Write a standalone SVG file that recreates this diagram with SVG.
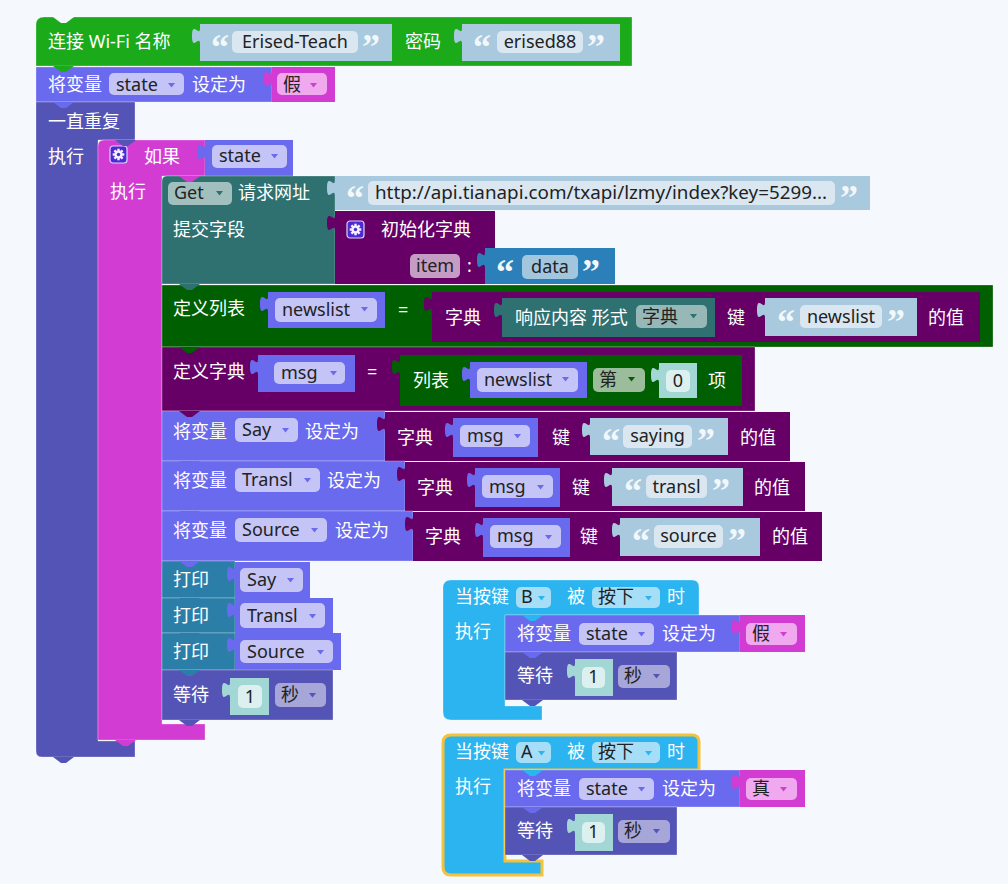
<svg xmlns="http://www.w3.org/2000/svg" width="1008" height="884" viewBox="0 0 1008 884">
<style>
.w{fill:#fff;font-family:"Noto Sans","Noto Sans CJK SC",sans-serif;font-size:18px}
.k{fill:#222;font-family:"Noto Sans","Noto Sans CJK SC",sans-serif;font-size:18px}
.m{text-anchor:middle}
.q{fill:#f2f7fa;font-family:"Liberation Serif",serif;font-size:36px;font-weight:bold}
.b{stroke:rgba(255,255,255,0.28);stroke-width:1}
.grn{fill:#1aaa1a}.vio{fill:#6a6aee}.lp{fill:#5454b6}.mag{fill:#d23cd2}.tea{fill:#2f7070}
.pur{fill:#660066}.dgr{fill:#005f00}.str{fill:#a9c9de}.sf{fill:#dae7f1}.num{fill:#a2d7d5}.nf{fill:#dcf0ef}
.prt{fill:#2b7ea7}.evt{fill:#2bb4ef}.vf{fill:#c4c4f6}.bf{fill:#f0a8ef}.ef{fill:#a6def8}.wf{fill:#a6a6d8}
</style>
<defs>
<path id="arr" d="M0,0h7l-3.5,4.5z"/>
<g id="gear">
<rect x="0" y="0" width="17" height="17" rx="3" fill="#4b2bd1" stroke="#dcd0ff" stroke-width="1.2"/>
<g fill="#f4f0ff" transform="translate(8.5,8.5)">
<circle r="4"/>
<rect x="-1.2" y="-5.8" width="2.4" height="11.6"/>
<rect x="-1.2" y="-5.8" width="2.4" height="11.6" transform="rotate(45)"/>
<rect x="-1.2" y="-5.8" width="2.4" height="11.6" transform="rotate(90)"/>
<rect x="-1.2" y="-5.8" width="2.4" height="11.6" transform="rotate(135)"/>
<circle r="1.7" fill="#4b2bd1"/>
</g>
</g>
</defs>
<rect width="1008" height="884" fill="#f5f8fd"/>

<g id="connectors"/>

<g id="wifi">
<path class="b grn" d="M36,25Q36,17 44,17H632V66H36Z"/>
<text class="w" x="48" y="48">连接 Wi-Fi 名称</text>
<path class="str" d="M200,28c0,10 -8,-8 -8,8s8,-2 8,8z"/>
<rect class="str" x="200" y="24" width="192" height="37"/>
<rect class="sf" x="232" y="31" width="126" height="22" rx="5"/>
<text class="q" x="211" y="59">“</text><text class="q" x="362" y="59">”</text>
<text class="k m" x="295" y="48">Erised-Teach</text>
<text class="w" x="405" y="48">密码</text>
<path class="str" d="M462,28c0,10 -8,-8 -8,8s8,-2 8,8z"/>
<rect class="str" x="462" y="24" width="158" height="37"/>
<rect class="sf" x="497" y="31" width="86" height="22" rx="5"/>
<text class="q" x="473" y="59">“</text><text class="q" x="587" y="59">”</text>
<text class="k m" x="540" y="48">erised88</text>
</g>

<g id="set-state-false">
<path class="b vio" d="M36,67H272V102H36Z"/>
<text class="w" x="48" y="91">将变量</text>
<rect class="vf" x="109" y="73" width="75" height="22" rx="5"/>
<text class="k" x="116" y="91">state</text>
<use href="#arr" x="168" y="83" fill="#6a6aee"/>
<text class="w" x="192" y="91">设定为</text>
<path class="mag" d="M272,71c0,10 -8,-8 -8,8s8,-2 8,8z"/>
<rect class="mag" x="272" y="67" width="63" height="35"/>
<rect class="bf" x="277" y="73" width="50" height="22" rx="5"/>
<text class="k" x="283" y="91">假</text>
<use href="#arr" x="310" y="83" fill="#d23cd2"/>
</g>

<g id="forever">
<path class="b lp" d="M36,102H135V140H98V741H135V757H42Q36,757 36,751Z"/>
<text class="w" x="48" y="128">一直重复</text>
<text class="w" x="48" y="163">执行</text>
</g>

<g id="if-state">
<path class="b mag" d="M98,146Q98,140 104,140H205V176H162V724H205V740H98Z"/>
<use href="#gear" x="110" y="146"/>
<text class="w" x="144" y="163">如果</text>
<path class="vio" d="M205,144c0,10 -8,-8 -8,8s8,-2 8,8z"/>
<rect class="vio" x="205" y="140" width="88" height="36"/>
<rect class="vf" x="212" y="145" width="75" height="23" rx="5"/>
<text class="k" x="219" y="162">state</text>
<use href="#arr" x="271" y="154" fill="#6a6aee"/>
<text class="w" x="110" y="198">执行</text>
</g>

<g id="http-get">
<path class="b tea" d="M162,181Q162,176 167,176H335V284H162Z"/>
<rect x="168" y="182" width="64" height="23" rx="5" fill="#a0bfbd"/>
<text class="k" x="174" y="199">Get</text>
<use href="#arr" x="216" y="191" fill="#2f7070"/>
<text class="w" x="238" y="199">请求网址</text>
<path class="str" d="M335,180c0,10 -8,-8 -8,8s8,-2 8,8z"/>
<rect class="str" x="335" y="176" width="535" height="34"/>
<rect class="sf" x="368" y="181" width="467" height="24" rx="5"/>
<text class="q" x="346" y="210">“</text><text class="q" x="840" y="210">”</text>
<text class="k" x="375" y="199" textLength="452" lengthAdjust="spacingAndGlyphs">http://api.tianapi.com/txapi/lzmy/index?key=5299...</text>
<text class="w" x="173" y="236">提交字段</text>
<path class="pur" d="M335,215c0,10 -8,-8 -8,8s8,-2 8,8z"/>
<rect class="pur" x="335" y="211" width="160" height="73"/>
<use href="#gear" x="347" y="221"/>
<text class="w" x="381" y="236">初始化字典</text>
<rect x="410" y="254" width="50" height="24" rx="5" fill="#c49cc4"/>
<text class="k" x="416" y="272">item</text>
<text class="w" x="467" y="272">:</text>
<path fill="#2c80ba" d="M485,252c0,10 -8,-8 -8,8s8,-2 8,8z"/>
<rect x="485" y="248" width="130" height="36" fill="#2c80ba"/>
<rect x="522" y="255" width="56" height="24" rx="5" fill="#a3c6df"/>
<text class="q" x="496" y="284">“</text><text class="q" x="582" y="284">”</text>
<text class="k m" x="550" y="273">data</text>
</g>

<g id="define-list">
<path class="b dgr" d="M162,285H993V347H162Z"/>
<text class="w" x="173" y="315">定义列表</text>
<path class="vio" d="M268,296c0,10 -8,-8 -8,8s8,-2 8,8z"/>
<rect class="vio" x="268" y="292" width="117" height="36"/>
<rect class="vf" x="275" y="298" width="102" height="24" rx="5"/>
<text class="k" x="282" y="316">newslist</text>
<use href="#arr" x="361" y="307" fill="#6a6aee"/>
<text class="w" x="398" y="316">=</text>
<path class="pur" d="M432,296c0,10 -8,-8 -8,8s8,-2 8,8z"/>
<rect class="pur" x="432" y="292" width="548" height="50"/>
<text class="w" x="445" y="324">字典</text>
<path class="tea" d="M502,302c0,10 -8,-8 -8,8s8,-2 8,8z"/>
<rect class="tea" x="502" y="298" width="213" height="39"/>
<text class="w" x="515" y="324">响应内容 形式</text>
<rect x="636" y="305" width="71" height="23" rx="5" fill="#98b8b8"/>
<text class="k" x="642" y="323">字典</text>
<use href="#arr" x="690" y="314" fill="#2f7070"/>
<text class="w" x="727" y="324">键</text>
<path class="str" d="M765,302c0,10 -8,-8 -8,8s8,-2 8,8z"/>
<rect class="str" x="765" y="298" width="152" height="38"/>
<rect class="sf" x="800" y="305" width="82" height="23" rx="5"/>
<text class="q" x="777" y="334">“</text><text class="q" x="887" y="334">”</text>
<text class="k m" x="841" y="323">newslist</text>
<text class="w" x="928" y="324">的值</text>
</g>

<g id="define-dict">
<path class="b pur" d="M162,347H755V411H162Z"/>
<text class="w" x="173" y="378">定义字典</text>
<path class="vio" d="M258,359c0,10 -8,-8 -8,8s8,-2 8,8z"/>
<rect class="vio" x="258" y="355" width="97" height="37"/>
<rect class="vf" x="274" y="362" width="71" height="22" rx="5"/>
<text class="k" x="281" y="379">msg</text>
<use href="#arr" x="330" y="371" fill="#6a6aee"/>
<text class="w" x="367" y="378">=</text>
<path class="dgr" d="M400,359c0,10 -8,-8 -8,8s8,-2 8,8z"/>
<rect class="dgr" x="400" y="355" width="342" height="51"/>
<text class="w" x="413" y="387">列表</text>
<path class="vio" d="M470,366c0,10 -8,-8 -8,8s8,-2 8,8z"/>
<rect class="vio" x="470" y="362" width="117" height="36"/>
<rect class="vf" x="477" y="368" width="101" height="24" rx="5"/>
<text class="k" x="484" y="386">newslist</text>
<use href="#arr" x="562" y="377" fill="#6a6aee"/>
<rect x="593" y="368" width="52" height="24" rx="5" fill="#9bbd9b"/>
<text class="k" x="599" y="386">第</text>
<use href="#arr" x="628" y="377" fill="#005f00"/>
<path class="num" d="M659,367c0,10 -8,-8 -8,8s8,-2 8,8z"/>
<rect class="num" x="659" y="363" width="38" height="35"/>
<rect class="nf" x="666" y="370" width="24" height="22" rx="5"/>
<text class="k m" x="678" y="387">0</text>
<text class="w" x="708" y="387">项</text>
</g>

<g id="set-say">
<path class="b vio" d="M162,411H385V461H162Z"/>
<text class="w" x="173" y="438">将变量</text>
<rect class="vf" x="235" y="418" width="63" height="24" rx="5"/>
<text class="k" x="242" y="436">Say</text>
<use href="#arr" x="282" y="428" fill="#6a6aee"/>
<text class="w" x="305" y="438">设定为</text>
<path class="pur" d="M385,416c0,10 -8,-8 -8,8s8,-2 8,8z"/>
<rect class="pur" x="385" y="412" width="405" height="49"/>
<text class="w" x="397" y="444">字典</text>
<path class="vio" d="M453,422c0,10 -8,-8 -8,8s8,-2 8,8z"/>
<rect class="vio" x="453" y="418" width="85" height="39"/>
<rect class="vf" x="460" y="425" width="70" height="22" rx="5"/>
<text class="k" x="467" y="442">msg</text>
<use href="#arr" x="514" y="434" fill="#6a6aee"/>
<text class="w" x="552" y="444">键</text>
<path class="str" d="M590,422c0,10 -8,-8 -8,8s8,-2 8,8z"/>
<rect class="str" x="590" y="418" width="138" height="37"/>
<rect class="sf" x="623" y="425" width="69" height="23" rx="5"/>
<text class="q" x="602" y="453">“</text><text class="q" x="697" y="453">”</text>
<text class="k m" x="657.5" y="442">saying</text>
<text class="w" x="740" y="444">的值</text>
</g>

<g id="set-transl">
<path class="b vio" d="M162,461H405V511H162Z"/>
<text class="w" x="173" y="487">将变量</text>
<rect class="vf" x="235" y="468" width="85" height="24" rx="5"/>
<text class="k" x="242" y="486">Transl</text>
<use href="#arr" x="304" y="478" fill="#6a6aee"/>
<text class="w" x="327" y="487">设定为</text>
<path class="pur" d="M405,466c0,10 -8,-8 -8,8s8,-2 8,8z"/>
<rect class="pur" x="405" y="462" width="400" height="49"/>
<text class="w" x="417" y="494">字典</text>
<path class="vio" d="M475,472c0,10 -8,-8 -8,8s8,-2 8,8z"/>
<rect class="vio" x="475" y="468" width="85" height="39"/>
<rect class="vf" x="482" y="475" width="71" height="23" rx="5"/>
<text class="k" x="489" y="493">msg</text>
<use href="#arr" x="537" y="485" fill="#6a6aee"/>
<text class="w" x="572" y="494">键</text>
<path class="str" d="M612,472c0,10 -8,-8 -8,8s8,-2 8,8z"/>
<rect class="str" x="612" y="468" width="131" height="38"/>
<rect class="sf" x="646" y="475" width="61" height="23" rx="5"/>
<text class="q" x="624" y="503">“</text><text class="q" x="712" y="503">”</text>
<text class="k m" x="676.5" y="493">transl</text>
<text class="w" x="754" y="494">的值</text>
</g>

<g id="set-source">
<path class="b vio" d="M162,511H413V561H162Z"/>
<text class="w" x="173" y="537">将变量</text>
<rect class="vf" x="235" y="518" width="92" height="24" rx="5"/>
<text class="k" x="242" y="536">Source</text>
<use href="#arr" x="311" y="528" fill="#6a6aee"/>
<text class="w" x="335" y="537">设定为</text>
<path class="pur" d="M413,516c0,10 -8,-8 -8,8s8,-2 8,8z"/>
<rect class="pur" x="413" y="512" width="409" height="49"/>
<text class="w" x="425" y="543">字典</text>
<path class="vio" d="M483,522c0,10 -8,-8 -8,8s8,-2 8,8z"/>
<rect class="vio" x="483" y="518" width="87" height="39"/>
<rect class="vf" x="490" y="525" width="71" height="23" rx="5"/>
<text class="k" x="497" y="542">msg</text>
<use href="#arr" x="545" y="535" fill="#6a6aee"/>
<text class="w" x="580" y="543">键</text>
<path class="str" d="M620,522c0,10 -8,-8 -8,8s8,-2 8,8z"/>
<rect class="str" x="620" y="518" width="140" height="38"/>
<rect class="sf" x="654" y="525" width="69" height="23" rx="5"/>
<text class="q" x="632" y="553">“</text><text class="q" x="728" y="553">”</text>
<text class="k m" x="688.5" y="542">source</text>
<text class="w" x="772" y="543">的值</text>
</g>

<g id="print-say">
<path class="b prt" d="M162,561H235V598H162Z"/>
<text class="w" x="173" y="586">打印</text>
<path class="vio" d="M235,566c0,10 -8,-8 -8,8s8,-2 8,8z"/>
<rect class="vio" x="235" y="562" width="75" height="36"/>
<rect class="vf" x="240" y="568" width="63" height="24" rx="5"/>
<text class="k" x="247" y="586">Say</text>
<use href="#arr" x="287" y="578" fill="#6a6aee"/>
</g>
<g id="print-transl">
<path class="b prt" d="M162,598H235V633H162Z"/>
<text class="w" x="173" y="622">打印</text>
<path class="vio" d="M235,602c0,10 -8,-8 -8,8s8,-2 8,8z"/>
<rect class="vio" x="235" y="598" width="98" height="35"/>
<rect class="vf" x="240" y="603" width="85" height="25" rx="5"/>
<text class="k" x="247" y="622">Transl</text>
<use href="#arr" x="309" y="614" fill="#6a6aee"/>
</g>
<g id="print-source">
<path class="b prt" d="M162,633H235V670H162Z"/>
<text class="w" x="173" y="658">打印</text>
<path class="vio" d="M235,637c0,10 -8,-8 -8,8s8,-2 8,8z"/>
<rect class="vio" x="235" y="633" width="106" height="37"/>
<rect class="vf" x="240" y="640" width="93" height="23" rx="5"/>
<text class="k" x="247" y="658">Source</text>
<use href="#arr" x="317" y="650" fill="#6a6aee"/>
</g>
<g id="wait-main">
<path class="b lp" d="M162,670H333V720H162Z"/>
<text class="w" x="173" y="701">等待</text>
<path class="num" d="M230,682c0,10 -8,-8 -8,8s8,-2 8,8z"/>
<rect class="num" x="230" y="678" width="39" height="37"/>
<rect class="nf" x="238" y="685" width="24" height="23" rx="5"/>
<text class="k m" x="250" y="703">1</text>
<rect class="wf" x="275" y="683" width="51" height="24" rx="5"/>
<text class="k" x="281" y="701">秒</text>
<use href="#arr" x="309" y="693" fill="#5454b6"/>
</g>

<g id="event-b">
<path class="b evt" d="M443,588Q443,580 451,580H692Q699,580 699,587V615H505V706H542V720H451Q443,720 443,712Z"/>
<text class="w" x="455" y="603">当按键</text>
<rect class="ef" x="516" y="587" width="35" height="21" rx="5"/>
<text class="k" x="521" y="603">B</text>
<use href="#arr" x="538" y="596" fill="#2bb4ef"/>
<text class="w" x="567" y="603">被</text>
<rect class="ef" x="592" y="587" width="68" height="21" rx="5"/>
<text class="k" x="598" y="603">按下</text>
<use href="#arr" x="645" y="596" fill="#2bb4ef"/>
<text class="w" x="667" y="603">时</text>
<text class="w" x="455" y="638">执行</text>
</g>
<g id="set-state-false-b">
<path class="b vio" d="M505,615H740V652H505Z"/>
<text class="w" x="517" y="640">将变量</text>
<rect class="vf" x="579" y="623" width="75" height="22" rx="5"/>
<text class="k" x="586" y="640">state</text>
<use href="#arr" x="638" y="632" fill="#6a6aee"/>
<text class="w" x="662" y="640">设定为</text>
<path class="mag" d="M740,619c0,10 -8,-8 -8,8s8,-2 8,8z"/>
<rect class="mag" x="740" y="615" width="65" height="37"/>
<rect class="bf" x="746" y="623" width="51" height="22" rx="5"/>
<text class="k" x="752" y="640">假</text>
<use href="#arr" x="780" y="632" fill="#d23cd2"/>
</g>
<g id="wait-b">
<path class="b lp" d="M505,652H677V700H505Z"/>
<text class="w" x="517" y="682">等待</text>
<path class="num" d="M575,663c0,10 -8,-8 -8,8s8,-2 8,8z"/>
<rect class="num" x="575" y="659" width="38" height="37"/>
<rect class="nf" x="582" y="667" width="23" height="21" rx="5"/>
<text class="k m" x="593.5" y="683">1</text>
<rect class="wf" x="618" y="665" width="52" height="23" rx="5"/>
<text class="k" x="624" y="682">秒</text>
<use href="#arr" x="653" y="674" fill="#5454b6"/>
</g>

<g id="event-a">
<path class="evt" stroke="#f5c33b" stroke-width="3" d="M443,743Q443,735 451,735H692Q699,735 699,742V770H505V861H542V875H451Q443,875 443,867Z"/>
<text class="w" x="455" y="758">当按键</text>
<rect class="ef" x="516" y="742" width="35" height="21" rx="5"/>
<text class="k" x="521" y="758">A</text>
<use href="#arr" x="538" y="751" fill="#2bb4ef"/>
<text class="w" x="567" y="758">被</text>
<rect class="ef" x="592" y="742" width="68" height="21" rx="5"/>
<text class="k" x="598" y="758">按下</text>
<use href="#arr" x="645" y="751" fill="#2bb4ef"/>
<text class="w" x="667" y="758">时</text>
<text class="w" x="455" y="793">执行</text>
</g>
<g id="set-state-true-a">
<path class="b vio" d="M505,770H740V807H505Z"/>
<text class="w" x="517" y="795">将变量</text>
<rect class="vf" x="579" y="778" width="75" height="22" rx="5"/>
<text class="k" x="586" y="795">state</text>
<use href="#arr" x="638" y="787" fill="#6a6aee"/>
<text class="w" x="662" y="795">设定为</text>
<path class="mag" d="M740,774c0,10 -8,-8 -8,8s8,-2 8,8z"/>
<rect class="mag" x="740" y="770" width="65" height="37"/>
<rect class="bf" x="746" y="778" width="51" height="22" rx="5"/>
<text class="k" x="752" y="795">真</text>
<use href="#arr" x="780" y="787" fill="#d23cd2"/>
</g>
<g id="wait-a">
<path class="b lp" d="M505,807H677V855H505Z"/>
<text class="w" x="517" y="837">等待</text>
<path class="num" d="M575,818c0,10 -8,-8 -8,8s8,-2 8,8z"/>
<rect class="num" x="575" y="814" width="38" height="37"/>
<rect class="nf" x="582" y="822" width="23" height="21" rx="5"/>
<text class="k m" x="593.5" y="838">1</text>
<rect class="wf" x="618" y="820" width="52" height="23" rx="5"/>
<text class="k" x="624" y="837">秒</text>
<use href="#arr" x="653" y="829" fill="#5454b6"/>
</g>

<g id="notches">
<path fill="#f5f8fd" d="M53,17l8,6h5l8,-6z"/>
<path class="grn" d="M53,66l8,6h5l8,-6z"/>
<path class="vio" d="M53,102l8,6h5l8,-6z"/>
<path class="lp" d="M115,140l8,6h5l8,-6z"/>
<path class="mag" d="M179,176l8,6h5l8,-6z"/>
<path class="tea" d="M179,284l8,6h5l8,-6z"/>
<path class="dgr" d="M179,347l8,6h5l8,-6z"/>
<path class="pur" d="M179,411l8,6h5l8,-6z"/>
<path class="vio" d="M179,461l8,6h5l8,-6z"/>
<path class="vio" d="M179,511l8,6h5l8,-6z"/>
<path class="vio" d="M179,561l8,6h5l8,-6z"/>
<path class="prt" d="M179,598l8,6h5l8,-6z"/>
<path class="prt" d="M179,633l8,6h5l8,-6z"/>
<path class="prt" d="M179,670l8,6h5l8,-6z"/>
<path class="lp" d="M179,720l8,6h5l8,-6z"/>
<path class="mag" d="M115,740l8,6h5l8,-6z"/>
<path class="lp" d="M53,757l8,6h5l8,-6z"/>
<path class="evt" d="M522,615l8,6h5l8,-6z"/>
<path class="vio" d="M522,652l8,6h5l8,-6z"/>
<path class="lp" d="M522,700l8,6h5l8,-6z"/>
<path class="evt" d="M522,770l8,6h5l8,-6z"/>
<path class="vio" d="M522,807l8,6h5l8,-6z"/>
<path class="lp" d="M522,855l8,6h5l8,-6z"/>
</g>
</svg>
